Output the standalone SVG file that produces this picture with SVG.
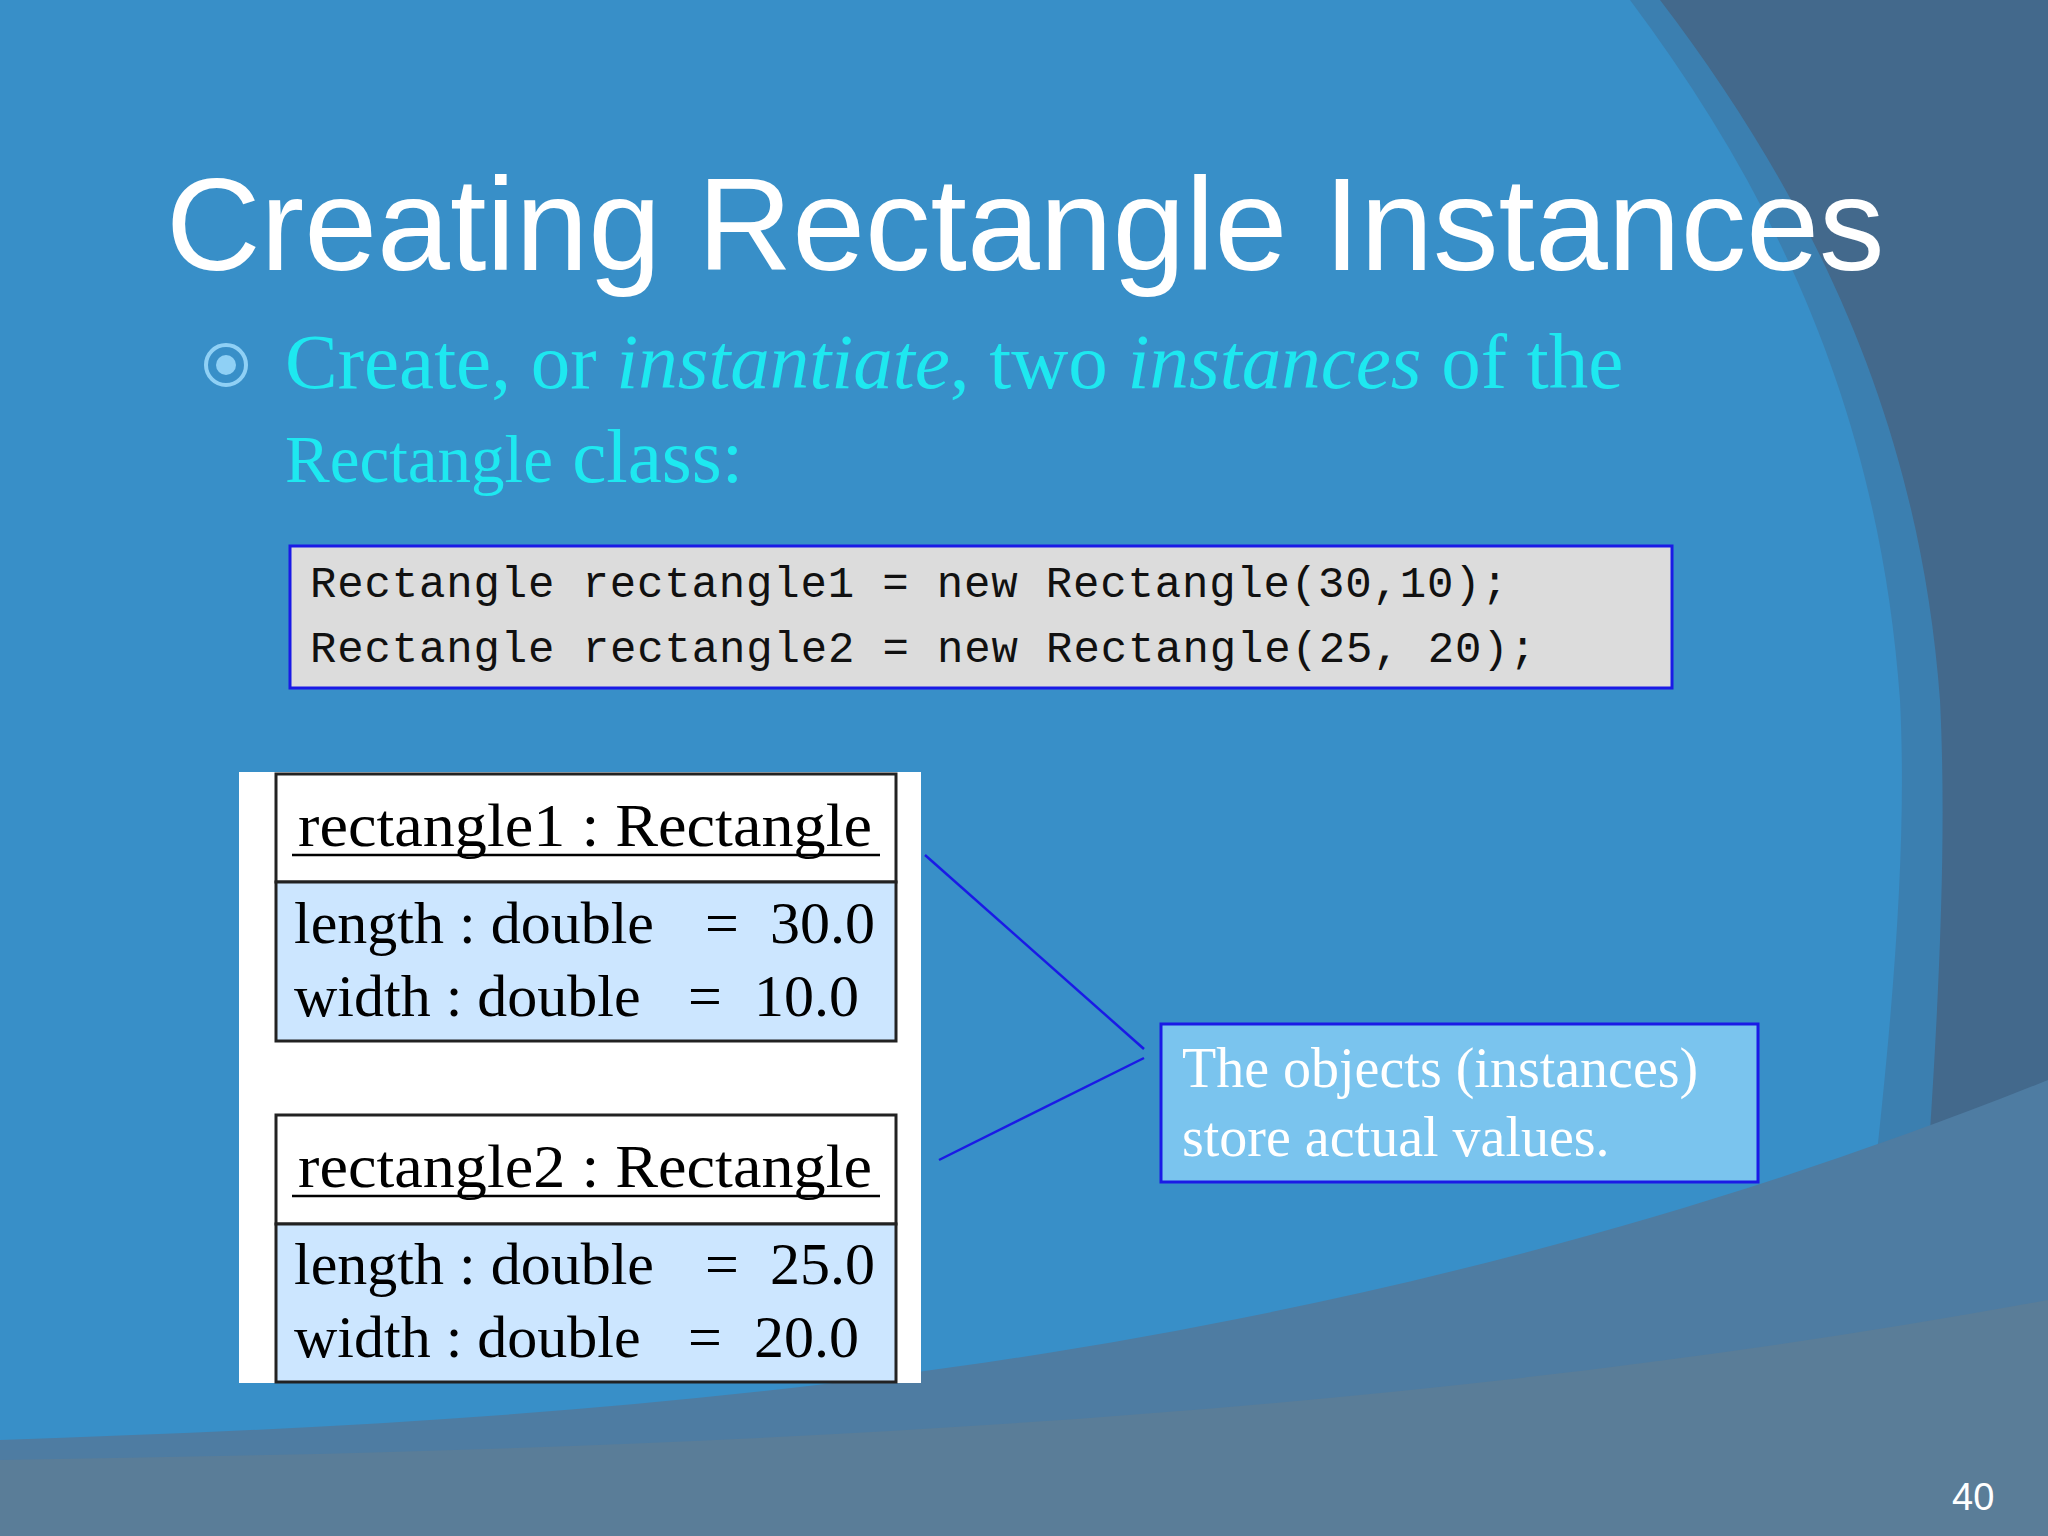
<svg xmlns="http://www.w3.org/2000/svg" width="2048" height="1536" viewBox="0 0 2048 1536">
<style>
.t{font-family:"Liberation Serif",serif;fill:#000}
.m{font-family:"Liberation Mono",monospace;font-size:44px;fill:#111}
.b{font-family:"Liberation Serif",serif;fill:#1ee8f0}
</style>
<rect width="2048" height="1536" fill="#388fc8"/>
<path d="M1630 0 C1780 200 1880 420 1900 700 C1910 900 1880 1150 1830 1536 L2048 1536 L2048 0 Z" fill="#3b7fb0"/>
<path d="M1660 0 C1820 210 1920 430 1940 700 C1950 900 1930 1150 1900 1536 L2048 1536 L2048 0 Z" fill="#43698c"/>
<path d="M0 1440 C600 1420 1300 1380 2048 1080 L2048 1536 L0 1536 Z" fill="#4e7ca2"/>
<path d="M0 1460 C700 1450 1400 1420 2048 1300 L2048 1536 L0 1536 Z" fill="#5a7d98"/>
<g id="title"><text x="166" y="270" font-family="Liberation Sans,sans-serif" font-size="131" fill="#fff">Creating Rectangle Instances</text></g>
<g id="bullet">
<circle cx="226" cy="365" r="20" fill="none" stroke="#8fd0f5" stroke-width="4"/>
<circle cx="226" cy="365" r="10" fill="#8fd0f5"/>
<text x="285" y="388" class="b" font-size="79">Create, or <tspan font-style="italic">instantiate</tspan>, two <tspan font-style="italic">instances</tspan> of the</text>
<text x="285" y="482" class="b"><tspan font-size="67">Rectangle</tspan><tspan font-size="77"> class:</tspan></text>
</g>
<g id="code">
<rect x="290" y="546" width="1382" height="142" fill="#dcdcdc" stroke="#1a1ae6" stroke-width="3"/>
<text x="310" y="597" class="m" textLength="1198" lengthAdjust="spacing">Rectangle rectangle1 = new Rectangle(30,10);</text>
<text x="310" y="662" class="m" textLength="1226" lengthAdjust="spacing">Rectangle rectangle2 = new Rectangle(25, 20);</text>
</g>
<rect x="239" y="772" width="682" height="611" fill="#fff"/>
<g id="rect1">
<rect x="276" y="774" width="620" height="108" fill="#fff" stroke="#222" stroke-width="3"/>
<rect x="276" y="882" width="620" height="159" fill="#cce6ff" stroke="#222" stroke-width="3"/>
<text x="298" y="846" class="t" font-size="62" textLength="574" lengthAdjust="spacingAndGlyphs">rectangle1 : Rectangle</text>
<line x1="292" y1="855" x2="880" y2="855" stroke="#000" stroke-width="2.5"/>
<text x="294" y="943" class="t" font-size="60">length : double<tspan x="705">=</tspan><tspan x="770">30.0</tspan></text>
<text x="294" y="1016" class="t" font-size="60">width : double<tspan x="688">=</tspan><tspan x="754">10.0</tspan></text>
</g>
<g id="rect2">
<rect x="276" y="1115" width="620" height="109" fill="#fff" stroke="#222" stroke-width="3"/>
<rect x="276" y="1224" width="620" height="158" fill="#cce6ff" stroke="#222" stroke-width="3"/>
<text x="298" y="1187" class="t" font-size="62" textLength="574" lengthAdjust="spacingAndGlyphs">rectangle2 : Rectangle</text>
<line x1="292" y1="1196" x2="880" y2="1196" stroke="#000" stroke-width="2.5"/>
<text x="294" y="1284" class="t" font-size="60">length : double<tspan x="705">=</tspan><tspan x="770">25.0</tspan></text>
<text x="294" y="1357" class="t" font-size="60">width : double<tspan x="688">=</tspan><tspan x="754">20.0</tspan></text>
</g>
<g id="callout">
<rect x="1161" y="1024" width="597" height="158" fill="#7ac4ee" stroke="#1a1ae6" stroke-width="3"/>
<text x="1182" y="1087" font-family="Liberation Serif,serif" font-size="56" fill="#fff">The objects (instances)</text>
<text x="1182" y="1156" font-family="Liberation Serif,serif" font-size="56" fill="#fff">store actual values.</text>
</g>
<g id="connectors" stroke="#1a1ae6" stroke-width="2.5">
<line x1="925" y1="855" x2="1144" y2="1049"/>
<line x1="939" y1="1160" x2="1144" y2="1058"/>
</g>
<text x="1952" y="1510" font-family="Liberation Sans,sans-serif" font-size="38" fill="#fff">40</text>
</svg>
